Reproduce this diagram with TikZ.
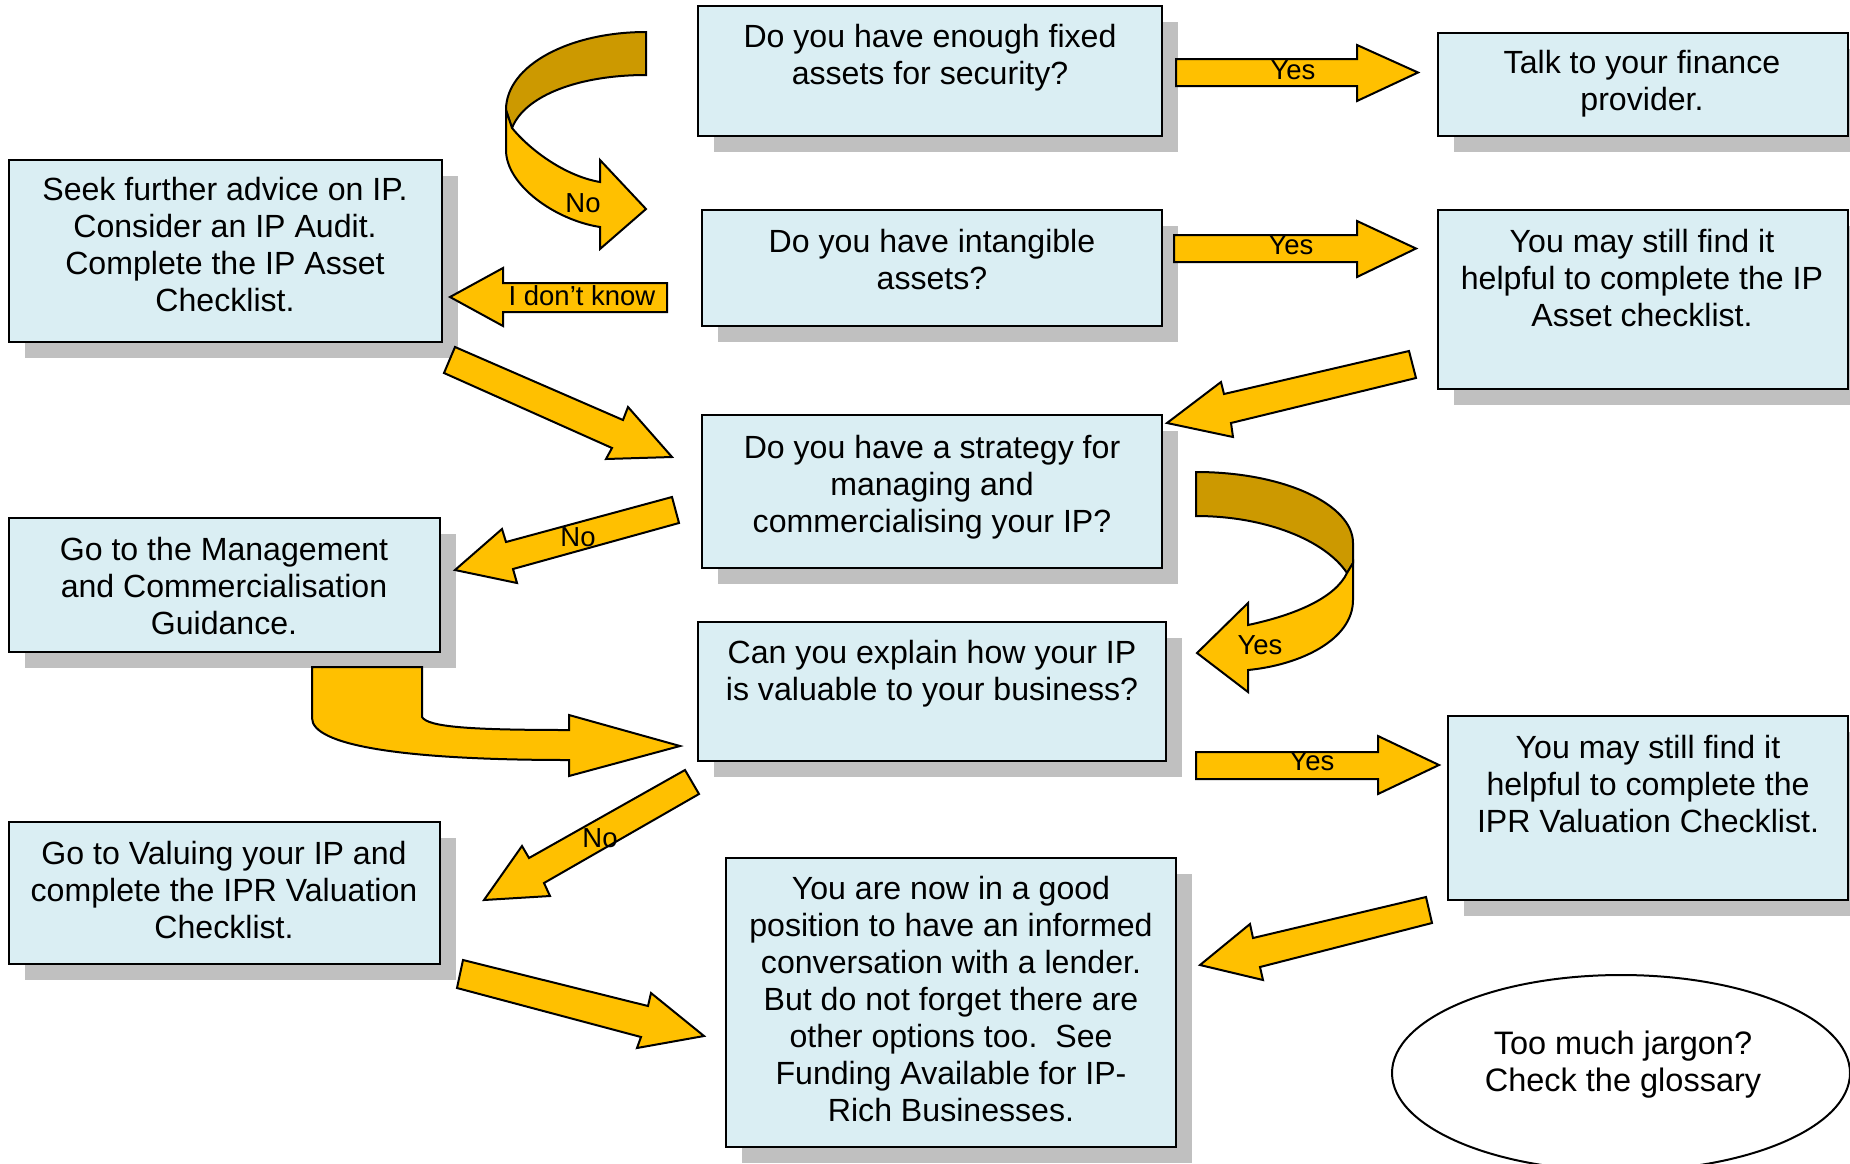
\documentclass[tikz,border=0pt]{standalone}
\usepackage{fontspec}
\setmainfont{Liberation Sans}
\usetikzlibrary{shapes.geometric}
\definecolor{boxblue}{HTML}{DAEEF3}
\definecolor{shadowgrey}{HTML}{C0C0C0}
\definecolor{arrowyellow}{HTML}{FFC000}
\definecolor{arrowdark}{HTML}{CC9900}
\newcommand\flowbox[5]{%
  \fill[shadowgrey] ({#2+16},{#3+16}) rectangle ({#4+16},{#5+16});
  \node[boxshape, minimum width={#4-#2}, minimum height={#5-#3}] (#1) at ({(#2+#4)/2},{(#3+#5)/2}) {};}
\begin{document}
\begin{tikzpicture}[x=1pt,y=-1pt,
  boxshape/.style={draw=black, line width=2.2pt, fill=boxblue, rectangle, inner sep=0pt, outer sep=0pt},
  boxtext/.style={align=center, inner sep=0pt, font=\fontsize{32.1}{37}\selectfont,
    execute at begin node=\strut, execute at end node=\strut},
  glosstext/.style={align=center, inner sep=0pt, font=\fontsize{32.5}{37}\selectfont,
    execute at begin node=\strut, execute at end node=\strut},
  lbl/.style={inner sep=0pt, font=\fontsize{27.5}{30}\selectfont},
  blockarrow/.style={fill=arrowyellow, draw=black, line width=2pt, line join=miter},
  darkarrow/.style={fill=arrowdark, draw=black, line width=2pt, line join=miter}]
\useasboundingbox (0,0) rectangle (1850,1163);
\clip (0,0) rectangle (1850,1163);

% boxes
\flowbox{b1}{698}{6}{1162}{136}
\flowbox{b2}{1438}{33}{1848}{136}
\flowbox{b3}{9}{160}{442}{342}
\flowbox{b4}{702}{210}{1162}{326}
\flowbox{b5}{1438}{210}{1848}{389}
\flowbox{b6}{702}{415}{1162}{568}
\flowbox{b7}{9}{518}{440}{652}
\flowbox{b8}{698}{622}{1166}{761}
\flowbox{b9}{1448}{716}{1848}{900}
\flowbox{b10}{9}{822}{440}{964}
\flowbox{b11}{726}{858}{1176}{1147}
\node[ellipse, draw=black, line width=2pt, fill=white, minimum width=458, minimum height=196, inner sep=0pt] (gl) at (1621,1073) {};

% box texts
\node[boxtext] (t1) at (930,59.6) {Do you have enough fixed\\assets for security?};
\node[boxtext] (t2) at (1642,86) {Talk to your finance\\provider.};
\node[boxtext] (t3) at (225,250) {Seek further advice on IP.\\Consider an IP Audit.\\Complete the IP Asset\\Checklist.};
\node[boxtext] (t4) at (932,265) {Do you have intangible\\assets?};
\node[boxtext] (t5) at (1642,283) {You may still find it\\helpful to complete the IP\\Asset checklist.};
\node[boxtext] (t6) at (932,489) {Do you have a strategy for\\managing and\\commercialising your IP?};
\node[boxtext] (t7) at (224,591) {Go to the Management\\and Commercialisation\\Guidance.};
\node[boxtext] (t8) at (932,676) {Can you explain how your IP\\is valuable to your business?};
\node[boxtext] (t9) at (1648,789) {You may still find it\\helpful to complete the\\IPR Valuation Checklist.};
\node[boxtext] (t10) at (224,895) {Go to Valuing your IP and\\complete the IPR Valuation\\Checklist.};
\node[boxtext] (t11) at (951,1004) {You are now in a good\\position to have an informed\\conversation with a lender.\\But do not forget there are\\other options too.\ \ See\\Funding Available for IP-\\Rich Businesses.};
\node[glosstext] (t12) at (1623,1067) {Too much jargon?\\Check the glossary};

% straight block arrows
\draw[blockarrow] (1176,59) -- (1357,59) -- (1357,45) -- (1418,72.5) -- (1357,101) -- (1357,86) -- (1176,86) -- cycle;
\draw[blockarrow] (1174,235) -- (1357,235) -- (1357,221) -- (1416,248.5) -- (1357,277) -- (1357,262) -- (1174,262) -- cycle;
\draw[blockarrow] (1196,752) -- (1378,752) -- (1378,736) -- (1439,765) -- (1378,794) -- (1378,779) -- (1196,779) -- cycle;
\draw[blockarrow] (667,283) -- (503,283) -- (503,268) -- (450,297) -- (503,326) -- (503,312) -- (667,312) -- cycle;
\draw[blockarrow] (455,347) -- (623,420) -- (628,407) -- (672,457) -- (606,459) -- (612,448) -- (444,373) -- cycle;
\draw[blockarrow] (1409,351) -- (1224,394) -- (1221,382) -- (1167,423) -- (1233,437) -- (1231,423) -- (1416,378) -- cycle;
\draw[blockarrow] (672,497) -- (506,542) -- (502,529) -- (455,570) -- (517,583) -- (513,569) -- (679,523) -- cycle;
\draw[blockarrow] (685,770) -- (529,858) -- (522,846) -- (484,900) -- (550,896) -- (544,883) -- (699,794) -- cycle;
\draw[blockarrow] (463,960) -- (648,1006) -- (651,993) -- (704,1036) -- (637,1048) -- (641,1037) -- (457,988) -- cycle;
\draw[blockarrow] (1426,897) -- (1253,938) -- (1250,924) -- (1200,965) -- (1263,980) -- (1260,967) -- (1432,923) -- cycle;

% curved arrow top left (No)
\draw[darkarrow] (646,32) -- (646,75) .. controls (580,75) and (525,95) .. (512,128) -- (506,110) .. controls (506,65) and (570,32) .. (646,32) -- cycle;
\draw[blockarrow] (506,110) -- (512,128) .. controls (530,150) and (565,176) .. (600,182) -- (600,160) -- (646,209) -- (600,249) -- (600,227) .. controls (555,220) and (506,185) .. (506,150) -- cycle;

% curved arrow right (Yes)
\draw[darkarrow] (1196,472) .. controls (1285,472) and (1353,505) .. (1353,543) -- (1353,563) -- (1347,573) .. controls (1325,540) and (1265,516) .. (1196,516) -- cycle;
\draw[blockarrow] (1347,573) -- (1353,563) -- (1353,600) .. controls (1353,640) and (1300,665) .. (1248,670) -- (1248,692) -- (1197,653) -- (1248,603) -- (1248,625) .. controls (1295,615) and (1335,598) .. (1347,573) -- cycle;

% bent arrow from Management box
\draw[blockarrow] (312,667) -- (422,667) -- (422,717) .. controls (428,727) and (470,730) .. (569,730) -- (569,715) -- (680,746) -- (569,776) -- (569,760) .. controls (400,760) and (312,745) .. (312,718) -- cycle;

% labels
\node[lbl] (l1) at (1293,70) {Yes};
\node[lbl] (l2) at (1291,245) {Yes};
\node[lbl] (l3) at (1312,761) {Yes};
\node[lbl] (l4) at (582,296) {I don’t know};
\node[lbl] (l5) at (578,537) {No};
\node[lbl] (l6) at (600,838) {No};
\node[lbl] (l7) at (583,203) {No};
\node[lbl] (l8) at (1260,645) {Yes};
\end{tikzpicture}
\end{document}
